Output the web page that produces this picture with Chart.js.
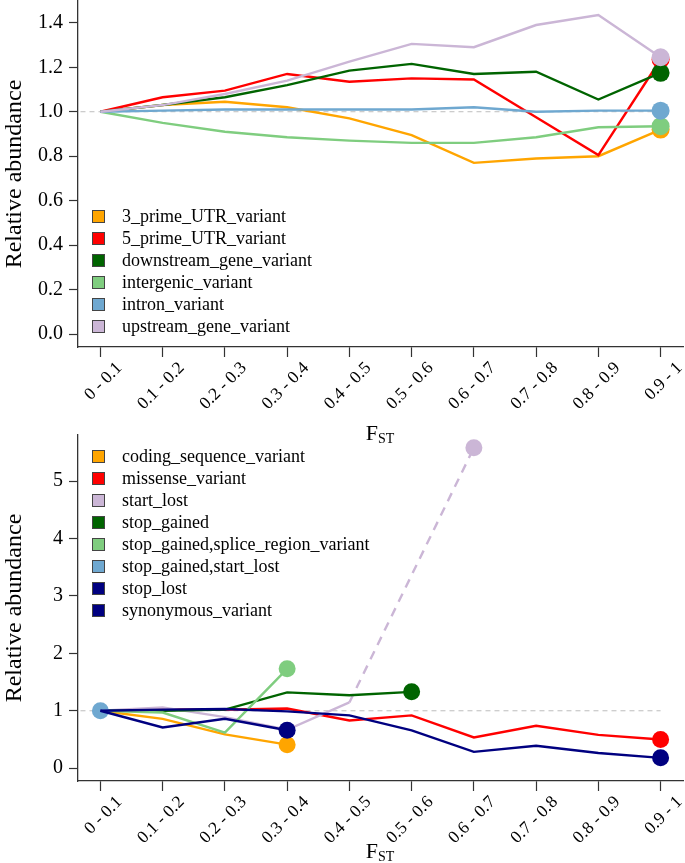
<!DOCTYPE html>
<html>
<head>
<meta charset="utf-8">
<script src="https://cdn.jsdelivr.net/npm/chart.js@4.4.1/dist/chart.umd.min.js"></script>
<style>
  body { margin: 0; background: #fff; }
  #wrap { position: relative; width: 685px; height: 863px; font-family: "Liberation Serif", serif; color: #000; }
  canvas { position: absolute; left: 0; }
  .legend { position: absolute; left: 92px; font-size: 18px; }
  .legend .row { display: flex; align-items: center; height: 22px; white-space: nowrap; }
  .legend .box { width: 11px; height: 11px; border: 1px solid #444; margin-right: 17px; flex: none; }
  .fst { position: absolute; left: 330px; width: 100px; text-align: center; font-size: 22px; line-height: 24px; }
  .fst sub { font-size: 14px; vertical-align: baseline; position: relative; top: 3px; }
</style>
</head>
<body>
<div id="wrap">
  <canvas id="regionChart" width="685" height="430" style="top:0"></canvas>
  <canvas id="codingChart" width="685" height="433" style="top:430px"></canvas>
  <div class="legend" id="regionLegend" style="top:205px"></div>
  <div class="legend" id="codingLegend" style="top:445px"></div>
  <div class="fst" style="top:421px">F<sub>ST</sub></div>
  <div class="fst" style="top:839px">F<sub>ST</sub></div>
</div>
<script>
  // F_ST bins (x categories)
  const fstBins = ['0 - 0.1', '0.1 - 0.2', '0.2 - 0.3', '0.3 - 0.4', '0.4 - 0.5',
                   '0.5 - 0.6', '0.6 - 0.7', '0.7 - 0.8', '0.8 - 0.9', '0.9 - 1'];

  // top panel: non-coding region variants
  const regionLabels = ['3_prime_UTR_variant', '5_prime_UTR_variant', 'downstream_gene_variant',
                        'intergenic_variant', 'intron_variant', 'upstream_gene_variant'];
  const regionColors = ['#FFA500', '#FF0000', '#006400', '#7FCD7F', '#6FA8D0', '#CBB6D6'];
  const threePrimeUTR = [1.0, 1.03, 1.045, 1.02, 0.97, 0.895, 0.77, 0.79, 0.80, 0.92];
  const fivePrimeUTR  = [1.0, 1.065, 1.095, 1.17, 1.135, 1.15, 1.145, 0.975, 0.805, 1.235];
  const downstream    = [1.0, 1.03, 1.065, 1.12, 1.185, 1.215, 1.17, 1.18, 1.055, 1.175];
  const intergenic    = [1.0, 0.95, 0.91, 0.885, 0.87, 0.86, 0.86, 0.885, 0.93, 0.935];
  const intron        = [1.0, 1.005, 1.01, 1.01, 1.01, 1.01, 1.02, 1.0, 1.005, 1.005];
  const upstream      = [1.0, 1.03, 1.08, 1.14, 1.225, 1.305, 1.29, 1.39, 1.435, 1.245];
  const regionYTicks  = [0, 0.2, 0.4, 0.6, 0.8, 1.0, 1.2, 1.4];

  // bottom panel: coding variants (null = no data in that bin)
  const codingLabels = ['coding_sequence_variant', 'missense_variant', 'start_lost', 'stop_gained',
                        'stop_gained,splice_region_variant', 'stop_gained,start_lost', 'stop_lost', 'synonymous_variant'];
  const codingColors = ['#FFA500', '#FF0000', '#CBB6D6', '#006400', '#7FCD7F', '#6FA8D0', '#000080', '#000080'];
  const codingSeq    = [1.0, 0.86, 0.59, 0.41, null, null, null, null, null, null];
  const missense     = [1.0, 1.02, 1.02, 1.04, 0.83, 0.92, 0.535, 0.74, 0.58, 0.50];
  const startLost    = [1.0, 1.06, 0.89, 0.67, 1.145, null, 5.58, null, null, null];
  const stopGained   = [1.0, 1.0, 1.02, 1.32, 1.27, 1.33, null, null, null, null];
  const stopSplice   = [1.0, 0.97, 0.62, 1.73, null, null, null, null, null, null];
  const stopStart    = [1.0, null, null, null, null, null, null, null, null, null];
  const stopLost     = [1.0, 0.71, 0.86, 0.66, null, null, null, null, null, null];
  const synonymous   = [1.0, 1.02, 1.03, 0.99, 0.92, 0.66, 0.285, 0.39, 0.265, 0.18];
  const codingYTicks = [0, 1, 2, 3, 4, 5];

  const refLevel = 1;
  const refSpan = [-0.32, 9];

  const FONT = '"Liberation Serif", serif';
  const AXIS = '#333';

  // gap segments (missing bin) are drawn dashed
  const gapDash = ctx => (ctx.p0.skip || ctx.p1.skip || ctx.p1DataIndex - ctx.p0DataIndex > 1) ? [9, 7] : undefined;

  function buildDatasets(labels, colors, series, radius) {
    const n = series.length;
    const ds = series.map((vals, k) => {
      let last = -1;
      vals.forEach((v, i) => { if (v !== null) last = i; });
      return {
        label: labels[k],
        data: vals.map((v, i) => ({ x: i, y: v === null ? NaN : v })),
        borderColor: colors[k],
        backgroundColor: colors[k],
        borderWidth: 2.4,
        pointRadius: vals.map((v, i) => i === last ? radius : 0),
        pointBorderWidth: 0,
        spanGaps: true,
        tension: 0,
        order: n - k,
        segment: { borderDash: gapDash }
      };
    });
    ds.push({
      label: 'ref',
      data: refSpan.map(x => ({ x: x, y: refLevel })),
      borderColor: '#BDBDBD',
      borderWidth: 1,
      borderDash: [5, 4],
      pointRadius: 0,
      order: 100
    });
    return ds;
  }

  function makeChart(id, datasets, yTicks, yMin, yMax, fmt, padTop, xHeight) {
    return new Chart(document.getElementById(id), {
      type: 'line',
      data: { datasets: datasets },
      options: {
        responsive: false, animation: false, events: [],
        layout: { autoPadding: false, padding: { left: 0, right: 2, top: padTop, bottom: 0 } },
        plugins: { legend: { display: false }, tooltip: { enabled: false } },
        scales: {
          x: {
            type: 'linear', min: -0.36, max: 9.36,
            afterBuildTicks: s => { s.ticks = fstBins.map((_, i) => ({ value: i })); },
            afterFit: s => { s.height = xHeight; s.paddingLeft = 0; s.paddingRight = 0; },
            ticks: {
              callback: v => fstBins[v], autoSkip: false, minRotation: 45, maxRotation: 45,
              font: { family: FONT, size: 17.5 }, color: '#000', padding: 1, labelOffset: 19
            },
            grid: { drawOnChartArea: false, tickLength: 10, tickColor: AXIS, tickWidth: 1.2 },
            border: { color: AXIS, width: 1.3 }
          },
          y: {
            min: yMin, max: yMax,
            afterBuildTicks: s => { s.ticks = yTicks.map(v => ({ value: v })); },
            afterFit: s => { s.width = 78; s.paddingTop = 0; s.paddingBottom = 0; },
            ticks: { callback: fmt, font: { family: FONT, size: 20 }, color: '#000', padding: 6 },
            grid: { drawOnChartArea: false, tickLength: 9, tickColor: AXIS, tickWidth: 1.2 },
            border: { color: AXIS, width: 1.3 },
            title: { display: true, text: 'Relative abundance', font: { family: FONT, size: 24 }, color: '#000', padding: { top: 0, bottom: 0 } }
          }
        }
      }
    });
  }

  function buildLegend(id, labels, colors) {
    document.getElementById(id).innerHTML = labels.map((l, k) =>
      `<div class="row"><span class="box" style="background:${colors[k]}"></span><span>${l}</span></div>`
    ).join('');
  }

  makeChart('regionChart',
    buildDatasets(regionLabels, regionColors,
      [threePrimeUTR, fivePrimeUTR, downstream, intergenic, intron, upstream], 9),
    regionYTicks, -0.058, 1.498, v => v.toFixed(1), 1, 83);

  makeChart('codingChart',
    buildDatasets(codingLabels, codingColors,
      [codingSeq, missense, startLost, stopGained, stopSplice, stopStart, stopLost, synonymous], 8.5),
    codingYTicks, -0.223, 5.803, v => String(v), 5, 82);

  buildLegend('regionLegend', regionLabels, regionColors);
  buildLegend('codingLegend', codingLabels, codingColors);
</script>
</body>
</html>
